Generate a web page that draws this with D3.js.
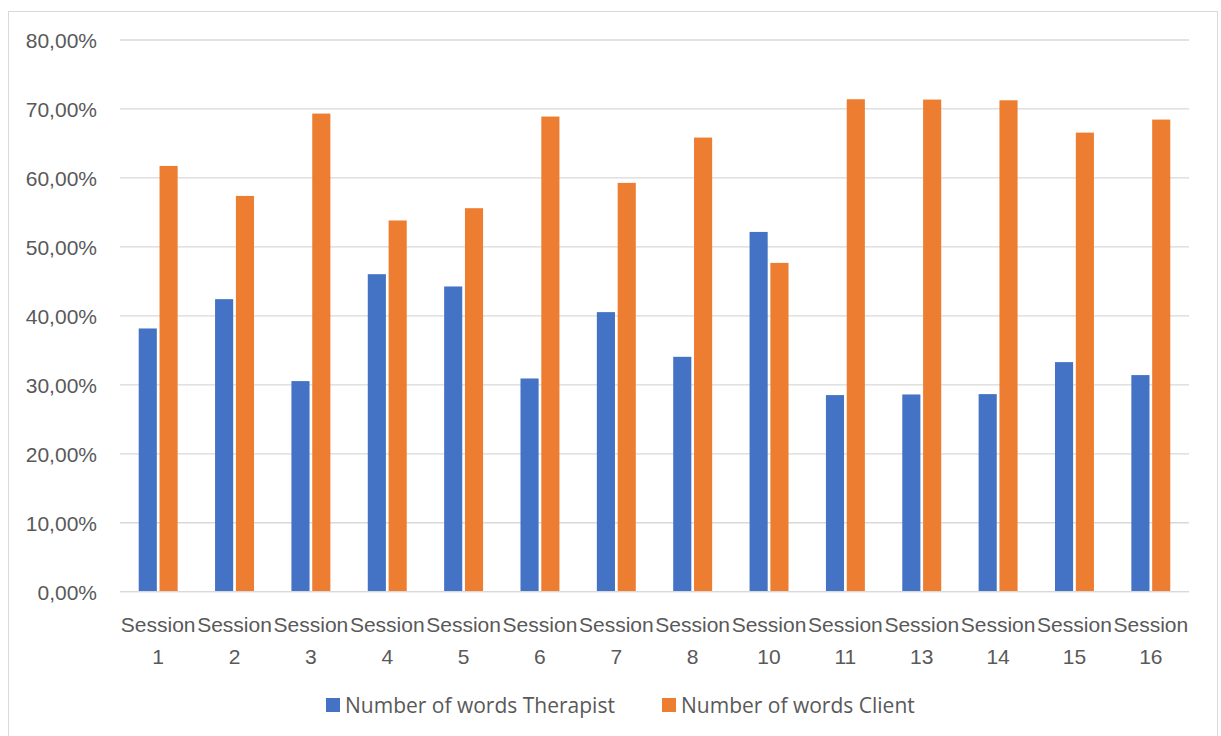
<!DOCTYPE html>
<html>
<head>
<meta charset="utf-8">
<script src="https://cdn.jsdelivr.net/npm/d3@7"></script>
<style>
  html, body { margin: 0; padding: 0; background: #fff; }
  svg { display: block; font-family: "Open Sans", "Noto Sans", sans-serif; }
</style>
</head>
<body>
<svg id="chart" width="1221" height="736"></svg>
<script>
// Share of words spoken per session (percent)
const sessions = ["1", "2", "3", "4", "5", "6", "7", "8", "10", "11", "13", "14", "15", "16"];
const therapist = [38.17, 42.42, 30.54, 46.04, 44.26, 30.92, 40.54, 34.06, 52.17, 28.51, 28.6, 28.65, 33.29, 31.41];
const client    = [61.74, 57.39, 69.33, 53.83, 55.61, 68.9, 59.28, 65.85, 47.68, 71.41, 71.36, 71.26, 66.57, 68.46];
const seriesNames = ["Number of words Therapist", "Number of words Client"];
const seriesColors = ["#4472C4", "#ED7D31"];
const yTicks = [0, 10, 20, 30, 40, 50, 60, 70, 80];

const svg = d3.select("#chart");
const textColor = "#595959";
const gridColor = "#d9d9d9";
const fontSize = "21px";

// outer chart frame
svg.append("rect")
  .attr("x", 8.5).attr("y", 11.5)
  .attr("width", 1209).attr("height", 740)
  .attr("fill", "none").attr("stroke", gridColor).attr("stroke-width", 1);

const plot = { left: 120, right: 1189, top: 40, bottom: 591.7 };

const y = d3.scaleLinear().domain([0, 80]).range([plot.bottom, plot.top]);
const x = d3.scaleBand().domain(sessions)
  .range([plot.left, plot.right])
  .paddingInner(0.49).paddingOuter(0.245);
const xs = d3.scaleBand().domain([0, 1]).range([0, x.bandwidth()]).paddingInner(0.13);

// horizontal gridlines
svg.append("g").selectAll("line").data(yTicks).join("line")
  .attr("x1", plot.left).attr("x2", plot.right)
  .attr("y1", d => y(d)).attr("y2", d => y(d))
  .attr("stroke", gridColor).attr("stroke-width", 1.3);

// y axis labels
const fmt = d => d.toFixed(2).replace(".", ",") + "%";
const yAxis = d3.axisLeft(y).tickValues(yTicks).tickFormat(fmt).tickSize(0).tickPadding(0);
const gy = svg.append("g").attr("transform", "translate(97,0)").call(yAxis);
gy.select(".domain").remove();
gy.selectAll("text")
  .attr("fill", textColor).style("font-size", fontSize)
  .attr("dy", "0.36em");

// bars
const groups = svg.append("g").selectAll("g").data(sessions).join("g")
  .attr("transform", d => `translate(${x(d)},0)`);
groups.selectAll("rect")
  .data((d, i) => [therapist[i], client[i]].map((v, k) => ({ v, k })))
  .join("rect")
  .attr("x", d => xs(d.k))
  .attr("width", xs.bandwidth())
  .attr("y", d => y(d.v))
  .attr("height", d => y(0) - y(d.v))
  .attr("fill", d => seriesColors[d.k]);

// x axis baseline
svg.append("line")
  .attr("x1", plot.left).attr("x2", plot.right)
  .attr("y1", y(0)).attr("y2", y(0))
  .attr("stroke", gridColor).attr("stroke-width", 1.3);

// x axis labels (two lines)
const xAxis = d3.axisBottom(x).tickSize(0).tickFormat("");
const gx = svg.append("g").attr("transform", `translate(0,${y(0)})`).call(xAxis);
gx.select(".domain").remove();
gx.selectAll(".tick").each(function(d) {
  const t = d3.select(this).append("text")
    .attr("text-anchor", "middle").attr("fill", textColor)
    .style("font-size", fontSize);
  t.append("tspan").attr("x", 0).attr("y", 40).text("Session");
  t.append("tspan").attr("x", 0).attr("y", 72.5).text(d);
});

// legend
const legend = svg.append("g");
const legendX = [326, 662];
seriesNames.forEach((name, k) => {
  const g = legend.append("g").attr("transform", `translate(${legendX[k]},698)`);
  g.append("rect").attr("width", 14).attr("height", 14).attr("fill", seriesColors[k]);
  g.append("text").attr("x", 19).attr("y", 7).attr("dy", "0.36em")
    .attr("fill", textColor).style("font-size", fontSize).text(name);
});
</script>
</body>
</html>
